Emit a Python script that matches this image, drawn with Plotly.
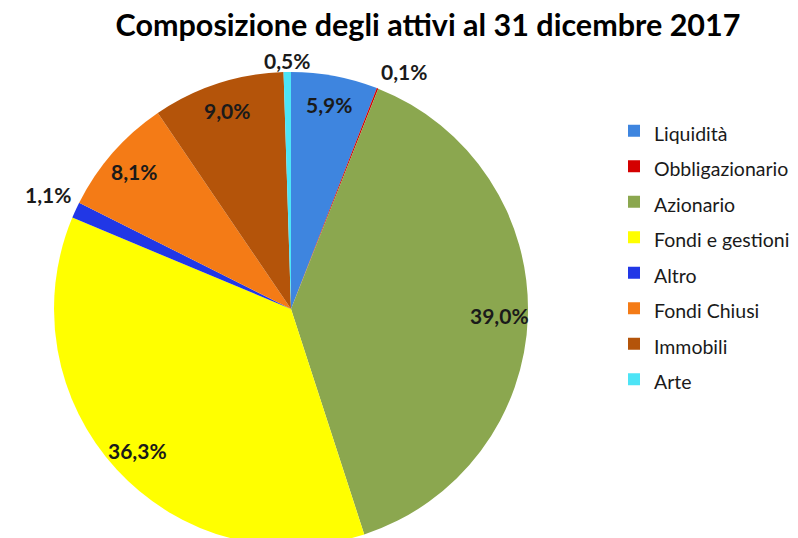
import math
import plotly.graph_objects as go

labels = ["Liquidità", "Obbligazionario", "Azionario", "Fondi e gestioni",
          "Altro", "Fondi Chiusi", "Immobili", "Arte"]
values = [5.9, 0.1, 39.0, 36.3, 1.1, 8.1, 9.0, 0.5]
colors = ["#3E85DF", "#D40000", "#8BA74F", "#FFFF00",
          "#2137E6", "#F47B16", "#B4540A", "#4DE4F6"]
title_text = "Composizione degli attivi al 31 dicembre 2017"

W, H = 798, 538
OFF = 8  # page body margin of the html document
cx, cy, r = 291 - OFF, 309 - OFF, 237
LABEL_FONT = dict(family="Lato", size=21, color="#1a1a1a", weight="bold")

pct = [f"{v:.1f}%".replace(".", ",") for v in values]
is_inside = [v >= 5 for v in values]
legend_names = [f"<span style='font-size:19.5px'>{l}</span>" for l in labels]

fig = go.Figure(go.Pie(
    labels=legend_names,
    values=values,
    textinfo="none",
    sort=False,
    direction="clockwise",
    rotation=0,
    marker=dict(colors=colors, line=dict(width=0)),
    domain=dict(x=[(cx - r) / W, (cx + r) / W],
                y=[(H - cy - r) / H, (H - cy + r) / H]),
    hovertemplate="%{label}: %{percent}<extra></extra>",
))

# data labels placed along each slice bisector (computed from the values)
total = sum(values)
cum = 0.0
for v, t, ins in zip(values, pct, is_inside):
    mid = (cum + v / 2) / total * 2 * math.pi
    cum += v
    s, c = math.sin(mid), math.cos(mid)
    if ins:
        d = 0.88 * r
        xa, ya = "center", "middle"
    else:
        xa = "left" if s > 0.3 else ("right" if s < -0.3 else "center")
        ya = "bottom" if c > 0.3 else ("top" if c < -0.3 else "middle")
        d = r + (3 if xa != "center" else -3)
    px = cx + d * s
    py = cy - d * c
    fig.add_annotation(x=px / W, y=1 - py / H, xref="paper", yref="paper",
                       text=t, showarrow=False, font=LABEL_FONT,
                       xanchor=xa, yanchor=ya)

fig.update_layout(
    width=W, height=H,
    margin=dict(l=0, r=0, t=0, b=0, autoexpand=False),
    paper_bgcolor="white",
    title=dict(text=title_text, x=(428 - OFF) / W, xanchor="center",
               y=1 - (25 - OFF) / H, yanchor="middle",
               font=dict(family="Lato", size=30.5, color="black", weight="bold")),
    legend=dict(x=606 / W, xanchor="left", y=1 - 100 / H, yanchor="top",
                font=dict(family="Lato", size=25, color="#1a1a1a"),
                bgcolor="rgba(0,0,0,0)"),
)

fig.write_html("out.html")
